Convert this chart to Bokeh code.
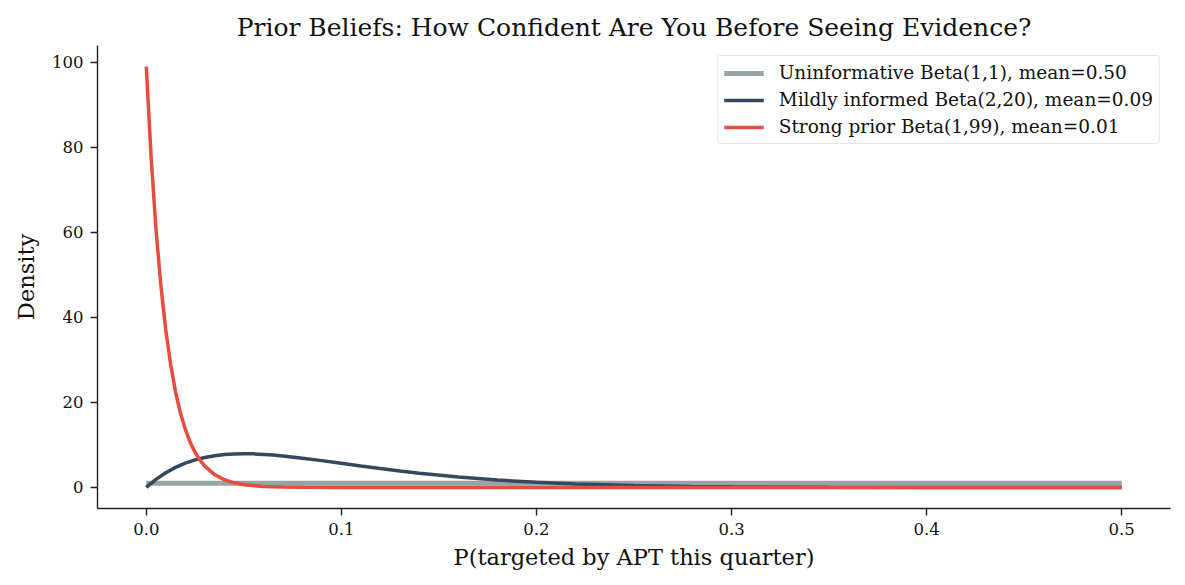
from bokeh.plotting import figure
from bokeh.models import Range1d, FixedTicker, Legend, LegendItem
from bokeh.embed import file_html
from bokeh.resources import INLINE

# Prior densities over P(targeted by APT this quarter)
uninf_x = [0.0, 0.5]
uninf_y = [1.0, 1.0]

mild_x = [0.0, 0.005, 0.01, 0.015, 0.02, 0.025, 0.03, 0.035, 0.04, 0.045, 0.05,
          0.055, 0.06, 0.065, 0.07, 0.08, 0.09, 0.10, 0.11, 0.12, 0.13, 0.14,
          0.16, 0.18, 0.20, 0.22, 0.25, 0.28, 0.30, 0.35, 0.40, 0.45, 0.50]
mild_y = [0.0, 1.91, 3.47, 4.72, 5.72, 6.49, 7.06, 7.47, 7.73, 7.88, 7.93,
          7.90, 7.77, 7.61, 7.41, 6.89, 6.31, 5.67, 5.05, 4.44, 3.87, 3.36,
          2.46, 1.75, 1.21, 0.83, 0.44, 0.23, 0.14, 0.04, 0.01, 0.002, 0.0]

strong_x = [0.0, 0.0025, 0.005, 0.0075, 0.01, 0.0125, 0.015, 0.0175, 0.02,
            0.0225, 0.025, 0.0275, 0.03, 0.035, 0.04, 0.045, 0.05, 0.06, 0.07,
            0.08, 0.10, 0.15, 0.20, 0.30, 0.40, 0.50]
strong_y = [99.0, 77.5, 60.6, 47.4, 37.0, 28.9, 22.5, 17.5, 13.7,
            10.6, 8.28, 6.44, 5.00, 3.01, 1.81, 1.09, 0.65, 0.23, 0.08,
            0.03, 0.003, 0.0, 0.0, 0.0, 0.0, 0.0]

labels = ["Uninformative Beta(1,1), mean=0.50",
          "Mildly informed Beta(2,20), mean=0.09",
          "Strong prior Beta(1,99), mean=0.01"]
colors = ["#95a5a6", "#34495e", "#e74c3c"]

x_ticks = [0.0, 0.1, 0.2, 0.3, 0.4, 0.5]
y_ticks = [0, 20, 40, 60, 80, 100]

FONT = "DejaVu Serif"

p = figure(width=1185, height=585, output_backend="svg", toolbar_location=None,
           x_range=Range1d(-0.025, 0.525), y_range=Range1d(-4.95, 103.95),
           min_border_left=97, min_border_right=15, min_border_top=45,
           min_border_bottom=77)
p.frame_width = 1073
p.frame_height = 463

p.title.text = "Prior Beliefs: How Confident Are You Before Seeing Evidence?"
p.title.align = "center"
p.title.text_font = FONT
p.title.text_font_size = "25px"
p.title.text_font_style = "normal"
p.title.text_color = "#111111"
p.title.standoff = 8

p.grid.visible = False
p.outline_line_color = None
p.background_fill_color = "white"
p.border_fill_color = "white"

r_u = p.line(uninf_x, uninf_y, line_color=colors[0], line_width=5)
r_m = p.line(mild_x, mild_y, line_color=colors[1], line_width=3.5)
r_s = p.line(strong_x, strong_y, line_color=colors[2], line_width=3.5)

for ax in (p.xaxis[0], p.yaxis[0]):
    ax.axis_line_color = "#222222"
    ax.axis_line_width = 1.4
    ax.major_tick_line_color = "#222222"
    ax.major_tick_line_width = 1.4
    ax.major_tick_out = 7
    ax.major_tick_in = 0
    ax.minor_tick_line_color = None
    ax.major_label_text_font = FONT
    ax.major_label_text_font_size = "16.5px"
    ax.major_label_text_color = "#111111"
    ax.axis_label_text_font = FONT
    ax.axis_label_text_font_size = "22.5px"
    ax.axis_label_text_font_style = "normal"
    ax.axis_label_text_color = "#111111"

p.xaxis.ticker = FixedTicker(ticks=x_ticks)
p.xaxis.major_label_overrides = {t: f"{t:.1f}" for t in x_ticks}
p.xaxis.axis_label = "P(targeted by APT this quarter)"
p.xaxis.major_label_standoff = 7
p.xaxis.axis_label_standoff = 6

p.yaxis.ticker = FixedTicker(ticks=y_ticks)
p.yaxis.axis_label = "Density"
p.yaxis.major_label_standoff = 7
p.yaxis.axis_label_standoff = 10

legend = Legend(items=[LegendItem(label=labels[0], renderers=[r_u]),
                       LegendItem(label=labels[1], renderers=[r_m]),
                       LegendItem(label=labels[2], renderers=[r_s])],
                location="top_right")
legend.label_text_font = FONT
legend.label_text_font_size = "18.5px"
legend.label_text_color = "#111111"
legend.border_line_color = "#cccccc"
legend.border_line_width = 1.2
legend.border_radius = 4
legend.background_fill_alpha = 0.9
legend.glyph_width = 40
legend.glyph_height = 20
legend.label_height = 20
legend.spacing = 6
legend.padding = 6
legend.margin = 10
legend.label_standoff = 15
p.add_layout(legend)

open("out.html", "w").write(file_html(p, INLINE))
